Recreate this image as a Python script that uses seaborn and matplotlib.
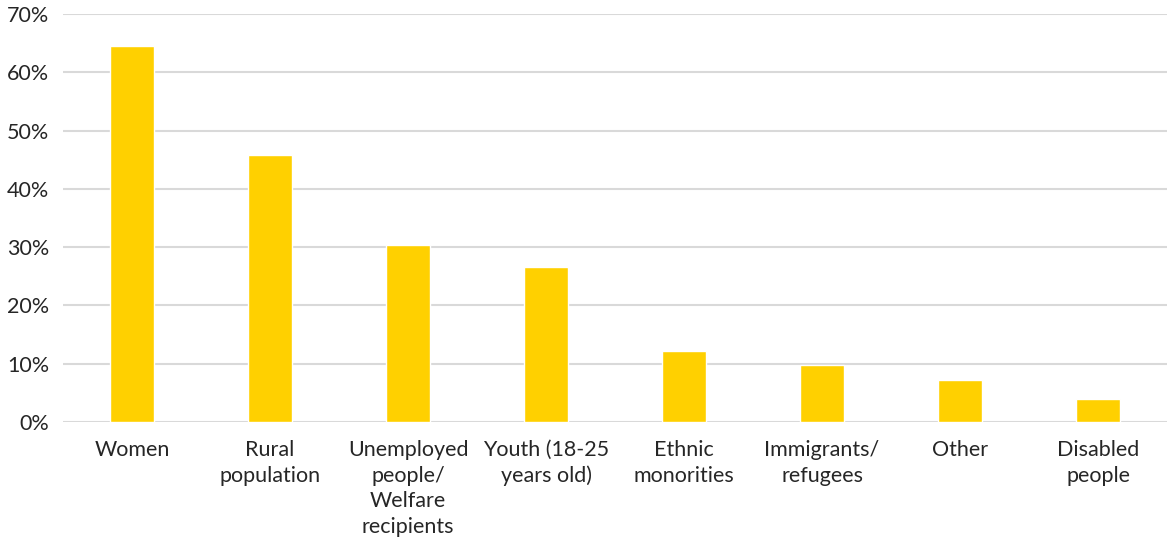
import matplotlib
matplotlib.use("Agg")
import matplotlib.pyplot as plt
import seaborn as sns
import pandas as pd
from matplotlib.ticker import PercentFormatter

categories = ["Women", "Rural\npopulation", "Unemployed\npeople/\nWelfare\nrecipients",
              "Youth (18-25\nyears old)", "Ethnic\nmonorities", "Immigrants/\nrefugees",
              "Other", "Disabled\npeople"]
shares = [64.5, 45.8, 30.3, 26.5, 12.2, 9.7, 7.1, 3.9]

df = pd.DataFrame({"group": categories, "share": shares})

sns.set_style("white")
plt.rcParams['font.family'] = ['Lato', 'DejaVu Sans']

fig = plt.figure(figsize=(11.67, 5.38), dpi=100)
ax = fig.add_axes([0.054, 0.216, 0.946, 0.758])

ax.yaxis.grid(True, color="#d9d9d9", linewidth=1.5)
ax.set_axisbelow(True)
sns.barplot(data=df, x="group", y="share", color="#ffd000", saturation=1,
            width=0.32, ax=ax)

ax.set_ylim(0, 70)
ax.set_xlim(-0.5, 7.5)
ax.set_yticks(range(0, 71, 10))
ax.yaxis.set_major_formatter(PercentFormatter(decimals=0))
ax.set_xlabel("")
ax.set_ylabel("")
sns.despine(ax=ax, left=True, bottom=True, top=True, right=True)
ax.tick_params(axis="both", length=0, labelsize=15.5, labelcolor="#262626")
ax.tick_params(axis="x", pad=13)
ax.tick_params(axis="y", pad=10)
for lbl in ax.get_xticklabels():
    lbl.set_linespacing(1.36)
    lbl.set_verticalalignment("top")

fig.savefig("out.png", dpi=100)
